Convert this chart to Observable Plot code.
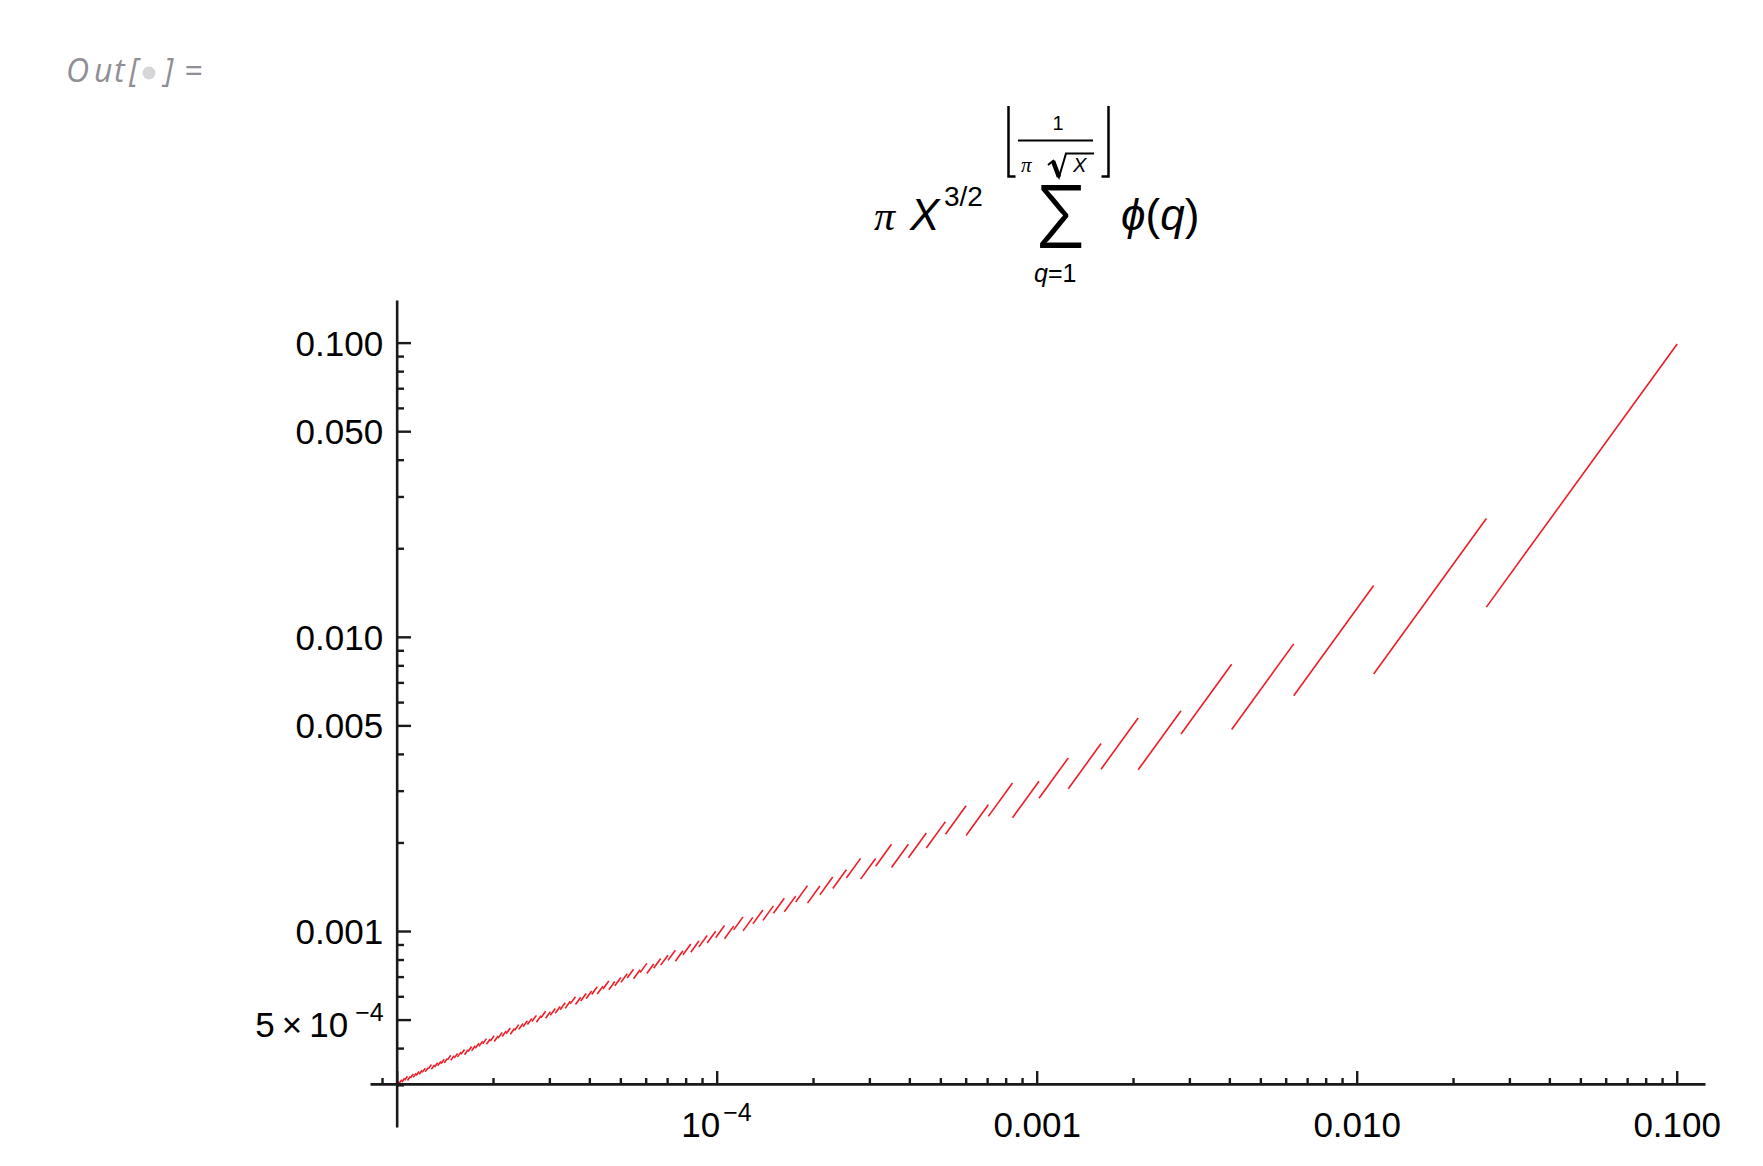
<!DOCTYPE html>
<html><head><meta charset="utf-8">
<script src="https://cdn.jsdelivr.net/npm/d3@7"></script>
<script src="https://cdn.jsdelivr.net/npm/@observablehq/plot@0.6"></script>
<style>
html,body{margin:0;padding:0;background:#fff;}
body{width:1763px;height:1166px;overflow:hidden;font-family:"Liberation Sans",Arial,sans-serif;}
svg{display:block;}
</style></head><body>
<svg id="header" width="1763" height="300" xmlns="http://www.w3.org/2000/svg">
  <g fill="#8f8f95" font-family="Open Sans, sans-serif" font-style="italic" font-size="32">
    <text x="66" y="82">O</text>
    <text x="94" y="82">u</text>
    <text x="114" y="82">t</text>
    <text x="129" y="82">[</text>
    <circle cx="149" cy="73" r="6.5" fill="#d6d6d9"></circle>
    <text x="164" y="82">]</text>
    <text x="184" y="82">=</text>
  </g>
  <g fill="#000" font-family="Liberation Sans, Arial, sans-serif">
    <text x="874" y="230" font-family="Liberation Serif, serif" font-style="italic" font-size="42">π</text>
    <text x="910" y="230" font-style="italic" font-size="44">X</text>
    <text x="944" y="206" font-size="28">3/2</text>
    <path d="M1008.5,106V176.5H1015.5" fill="none" stroke="#000" stroke-width="2.5"></path>
    <path d="M1108.5,106V176.5H1101.5" fill="none" stroke="#000" stroke-width="2.5"></path>
    <text x="1058" y="130" text-anchor="middle" font-size="20">1</text>
    <line x1="1018" x2="1093" y1="140.5" y2="140.5" stroke="#000" stroke-width="2"></line>
    <text x="1021" y="172" font-family="Liberation Serif, serif" font-style="italic" font-size="21">π</text>
    <path d="M1048,165 L1053,161 L1059,177 L1066,153.5 H1094" fill="none" stroke="#000" stroke-width="2"></path>
    <path d="M1053,161 L1059,177" fill="none" stroke="#000" stroke-width="4.5"></path>
    <text x="1073" y="172" font-style="italic" font-size="20">X</text>
    <text transform="translate(1035,248) scale(0.86,1)" font-family="Inter, Liberation Sans, sans-serif" font-weight="300" font-size="87">Σ</text>
    <text x="1034" y="282" font-size="25"><tspan font-style="italic">q</tspan>=1</text>
    <text x="1121" y="230" font-size="44"><tspan font-style="italic">ϕ</tspan>(<tspan font-style="italic">q</tspan>)</text>
  </g>
</svg>
<div id="chart"></div>
<script>
// ---- data: one segment per value of the upper summation limit floor(1/(pi*sqrt(X))) ----
const qMax = [1,2,3,4,5,6,7,8,9,10,11,12,13,14,15,16,17,18,19,20,
  21,22,23,24,25,26,27,28,29,30,31,32,33,34,35,36,37,38,39,40,
  41,42,43,44,45,46,47,48,49,50,51,52,53,54,55,56,57,58,59,60,
  61,62,63,64,65,66,67,68,69,70,71,72,73,74,75,76,77,78,79,80,
  81,82,83,84,85,86,87,88,89,90,91,92,93,94,95,96,97,98,99,100];

const totientSum = [1,2,4,6,10,12,18,22,28,32,42,46,58,64,72,80,96,102,120,128,
  140,150,172,180,200,212,230,242,270,278,308,324,344,360,384,396,432,450,474,490,
  530,542,584,604,628,650,696,712,754,774,806,830,882,900,940,964,1000,1028,1086,1102,
  1162,1192,1228,1260,1308,1328,1394,1426,1470,1494,1564,1588,1660,1696,1736,1772,1832,1856,1934,1966,
  2020,2060,2142,2166,2230,2272,2328,2368,2456,2480,2552,2596,2656,2702,2774,2806,2902,2944,3004,3044];

// X breakpoints (segment i spans xBreak[i+1] .. xBreak[i])
const xBreak = [0.1,
  0.025330, 0.011258, 0.0063326, 0.0040528, 0.0028145, 0.0020678, 0.0015831, 0.0012509, 0.0010132,
  0.00083737, 0.00070362, 0.00059953, 0.00051695, 0.00045032, 0.00039579, 0.00035059, 0.00031272, 0.00028067, 0.00025330,
  0.00022975, 0.00020934, 0.00019153, 0.00017590, 0.00016211, 0.00014988, 0.00013899, 0.00012924, 0.00012048, 0.00011258,
  0.00010543, 9.8946e-5, 9.3041e-5, 8.7648e-5, 8.2711e-5, 7.8180e-5, 7.4011e-5, 7.0167e-5, 6.6615e-5, 6.3326e-5,
  6.0274e-5, 5.7438e-5, 5.4798e-5, 5.2335e-5, 5.0035e-5, 4.7883e-5, 4.5867e-5, 4.3976e-5, 4.2200e-5, 4.0528e-5,
  3.8954e-5, 3.7471e-5, 3.6070e-5, 3.4747e-5, 3.3495e-5, 3.2309e-5, 3.1186e-5, 3.0119e-5, 2.9107e-5, 2.8145e-5,
  2.7230e-5, 2.6358e-5, 2.5528e-5, 2.4737e-5, 2.3981e-5, 2.3260e-5, 2.2571e-5, 2.1912e-5, 2.1282e-5, 2.0678e-5,
  2.0100e-5, 1.9545e-5, 1.9013e-5, 1.8503e-5, 1.8013e-5, 1.7542e-5, 1.7089e-5, 1.6654e-5, 1.6235e-5, 1.5831e-5,
  1.5443e-5, 1.5069e-5, 1.4708e-5, 1.4360e-5, 1.4024e-5, 1.3700e-5, 1.3386e-5, 1.3084e-5, 1.2791e-5, 1.2509e-5,
  1.2235e-5, 1.1971e-5, 1.1715e-5, 1.1467e-5, 1.1227e-5, 1.0994e-5, 1.0769e-5, 1.0550e-5, 1.0338e-5, 1.0132e-5,
  1.0e-5];

// value at the right end of each segment
const yRight = [0.099346, 0.025330, 0.015011, 0.0094989, 0.0081057, 0.0056290, 0.0053172, 0.0043537, 0.0038916, 0.0032423,
  0.0031972, 0.0026972, 0.0026748, 0.0023632, 0.0021615, 0.0019789, 0.0019798, 0.0017721, 0.0017726, 0.0016211,
  0.0015317, 0.0014273, 0.0014323, 0.0013193, 0.0012969, 0.0012221, 0.0011840, 0.0011170, 0.0011217, 0.0010432,
  0.0010475, 0.0010018, 0.00096988, 0.00092804, 0.00090746, 0.00085998, 0.00086413, 0.00083094, 0.00080963, 0.00077575,
  0.00077915, 0.00074123, 0.00074425, 0.00071842, 0.00069828, 0.00067661, 0.00067922, 0.00065232, 0.00064936, 0.00062738,
  0.00061564, 0.00059810, 0.00060026, 0.00057911, 0.00057245, 0.00055618, 0.00054711, 0.00053384, 0.00053577, 0.00051693,
  0.00051871, 0.00050676, 0.00049760, 0.00048700, 0.00048258, 0.00046802, 0.00046961, 0.00045950, 0.00045339, 0.00044132,
  0.00044275, 0.00043108, 0.00043236, 0.00042407, 0.00041693, 0.00040900, 0.00040659, 0.00039627, 0.00039745, 0.00038906,
  0.00038512, 0.00037855, 0.00037956, 0.00037027, 0.00036792, 0.00036192, 0.00035820, 0.00035207, 0.00035298, 0.00034469,
  0.00034313, 0.00033779, 0.00033456, 0.00032961, 0.00032782, 0.00032135, 0.00032216, 0.00031693, 0.00031369, 0.00030842];

// value at the left end of each segment
const yLeft = [0.012665, 0.0075053, 0.0063326, 0.0048634, 0.0046908, 0.0035448, 0.0035621, 0.0030577, 0.0028370, 0.0024360,
  0.0024627, 0.0021214, 0.0021416, 0.0019214, 0.0017810, 0.0016498, 0.0016678, 0.0015068, 0.0015198, 0.0014004,
  0.0013322, 0.0012491, 0.0012607, 0.0011672, 0.0011530, 0.0010913, 0.0010616, 0.0010053, 0.0010132, 0.00094550,
  0.00095236, 0.00091350, 0.00088680, 0.00085075, 0.00083392, 0.00079211, 0.00079770, 0.00076865, 0.00075041, 0.00072036,
  0.00072481, 0.00069071, 0.00069464, 0.00067158, 0.00065372, 0.00063434, 0.00063766, 0.00061319, 0.00061117, 0.00059120,
  0.00058080, 0.00056487, 0.00056753, 0.00054810, 0.00054233, 0.00052741, 0.00051930, 0.00050715, 0.00050942, 0.00049192,
  0.00049401, 0.00048301, 0.00047463, 0.00046487, 0.00046097, 0.00044737, 0.00044919, 0.00043981, 0.00043423, 0.00042294,
  0.00042456, 0.00041361, 0.00041507, 0.00040733, 0.00040069, 0.00039326, 0.00039115, 0.00038141, 0.00038273, 0.00037483,
  0.00037120, 0.00036504, 0.00036617, 0.00035736, 0.00035523, 0.00034958, 0.00034613, 0.00034033, 0.00034135, 0.00033345,
  0.00033206, 0.00032701, 0.00032400, 0.00031931, 0.00031768, 0.00031152, 0.00031240, 0.00030743, 0.00030437, 0.00030241];

// ---- axes ----
const xDomain = [8.254e-6, 0.12258];
const yDomain = [2.157e-4, 0.1396];
const yAxisAtX = 1e-5;       // where the vertical axis crosses
const xAxisAtY = 3.0241e-4;  // where the horizontal axis crosses

const xMajorTicks = [1e-5, 1e-4, 1e-3, 1e-2, 1e-1];
const xMinorTicks = [9e-6,
  2e-5, 3e-5, 4e-5, 5e-5, 6e-5, 7e-5, 8e-5, 9e-5,
  2e-4, 3e-4, 4e-4, 5e-4, 6e-4, 7e-4, 8e-4, 9e-4,
  2e-3, 3e-3, 4e-3, 5e-3, 6e-3, 7e-3, 8e-3, 9e-3,
  2e-2, 3e-2, 4e-2, 5e-2, 6e-2, 7e-2, 8e-2, 9e-2];
const xLabelTicks = [1e-3, 1e-2, 1e-1];
const xLabels = ["0.001", "0.010", "0.100"];
const xPowerTick = [1e-4];
const xPowerBase = ["10"];
const xPowerExp = ["\u22124"];

const yMajorTicks = [0.1, 0.05, 0.01, 0.005, 0.001, 0.0005];
const yMinorTicks = [0.09, 0.08, 0.07, 0.06, 0.04, 0.03, 0.02,
  0.009, 0.008, 0.007, 0.006, 0.004, 0.003, 0.002,
  0.0009, 0.0008, 0.0007, 0.0006, 0.0004, 0.0003];
const yLabelTicks = [0.1, 0.05, 0.01, 0.005, 0.001];
const yLabels = ["0.100", "0.050", "0.010", "0.005", "0.001"];
const yPowerTick = [0.0005];
const yPowerBase = ["5\u2009\u00d7\u200910"];
const yPowerExp = ["\u22124"];

// ---- table for the link mark ----
const segments = qMax.map((n, i) => ({
  n, sum: totientSum[i],
  x1: xBreak[i + 1], x2: xBreak[i],
  y1: yLeft[i], y2: yRight[i]
}));

const AX = "#1a1a1a";
const LINE = "#ee1c25";

const chart = Plot.plot({
  width: 1763,
  height: 866,
  marginTop: 0,
  marginBottom: 39,
  marginLeft: 370,
  marginRight: 58,
  x: {type: "log", domain: xDomain, axis: null},
  y: {type: "log", domain: yDomain, axis: null},
  style: {fontFamily: "Liberation Sans, Arial, sans-serif", background: "white", overflow: "visible", color: "black"},
  marks: [
    Plot.link(segments, {x1: "x1", y1: "y1", x2: "x2", y2: "y2", stroke: LINE, strokeWidth: 1.6}),
    // axis lines
    Plot.link([{x1: xDomain[0], x2: xDomain[1], y: xAxisAtY}], {x1: "x1", x2: "x2", y1: "y", y2: "y", stroke: AX, strokeWidth: 2.6}),
    Plot.link([{x: yAxisAtX, y1: yDomain[0], y2: yDomain[1]}], {x1: "x", x2: "x", y1: "y1", y2: "y2", stroke: AX, strokeWidth: 2.6}),
    // x ticks (pointing up from the axis)
    Plot.tickX(xMajorTicks, {x: d => d, insetTop: 771, insetBottom: 43, stroke: AX, strokeWidth: 2.4}),
    Plot.tickX(xMinorTicks, {x: d => d, insetTop: 778, insetBottom: 43, stroke: AX, strokeWidth: 2.4}),
    // y ticks (pointing right from the axis)
    Plot.tickY(yMajorTicks, {y: d => d, insetLeft: 27, insetRight: 1294, stroke: AX, strokeWidth: 2.4}),
    Plot.tickY(yMinorTicks, {y: d => d, insetLeft: 27, insetRight: 1301, stroke: AX, strokeWidth: 2.4}),
    // x tick labels
    Plot.text(xLabelTicks, {x: d => d, y: () => xAxisAtY, text: (d, i) => xLabels[i], textAnchor: "middle", lineAnchor: "bottom", dy: 53, fontSize: 35}),
    Plot.text(xPowerTick, {x: d => d, y: () => xAxisAtY, text: (d, i) => xPowerBase[i], textAnchor: "end", lineAnchor: "bottom", dx: 3, dy: 53, fontSize: 35}),
    Plot.text(xPowerTick, {x: d => d, y: () => xAxisAtY, text: (d, i) => xPowerExp[i], textAnchor: "start", lineAnchor: "bottom", dx: 6, dy: 37, fontSize: 25}),
    // y tick labels
    Plot.text(yLabelTicks, {x: () => yAxisAtX, y: d => d, text: (d, i) => yLabels[i], textAnchor: "end", lineAnchor: "bottom", dx: -14, dy: 12.5, fontSize: 35}),
    Plot.text(yPowerTick, {x: () => yAxisAtX, y: d => d, text: (d, i) => yPowerBase[i], textAnchor: "end", lineAnchor: "bottom", dx: -49, dy: 17, fontSize: 35}),
    Plot.text(yPowerTick, {x: () => yAxisAtX, y: d => d, text: (d, i) => yPowerExp[i], textAnchor: "start", lineAnchor: "bottom", dx: -42, dy: 1, fontSize: 25})
  ]
});
document.getElementById("chart").appendChild(chart);
</script>
</body></html>
